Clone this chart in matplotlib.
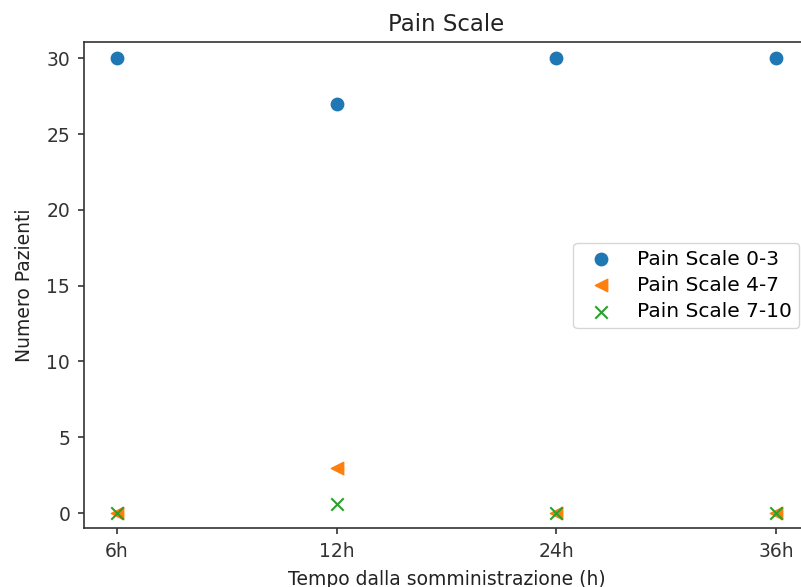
import matplotlib
matplotlib.use("Agg")
import matplotlib.pyplot as plt

# values
tempi = ["6h", "12h", "24h", "36h"]
pain_0_3 = [30, 27, 30, 30]
pain_4_7 = [0, 3, 0, 0]
pain_7_10 = [0, 0.6, 0, 0]

fig = plt.figure(figsize=(8.01, 5.87), dpi=100)
# right edge of the axes falls just outside the picture, as in the reference
ax = fig.add_axes([0.1049, 0.100, 0.905, 0.828])

ax.scatter(tempi, pain_0_3, s=80, marker="o", label="Pain Scale 0-3")
ax.scatter(tempi, pain_4_7, s=80, marker="<", label="Pain Scale 4-7")
ax.scatter(tempi, pain_7_10, s=80, marker="x", label="Pain Scale 7-10")

ax.set_xlim(-0.15, 3.15)
ax.set_ylim(-1.0, 31.05)

for sp in ax.spines.values():
    sp.set_linewidth(1.2)
    sp.set_color("#333333")
ax.tick_params(labelsize=13.5, length=4.5, width=1.2, pad=5.5, colors="#333333")

ax.set_title("Pain Scale", fontsize=16.5, pad=8, color="#222222")
ax.set_xlabel("Tempo dalla somministrazione (h)", fontsize=13.5, labelpad=6, color="#222222")
ax.set_ylabel("Numero Pazienti", fontsize=13.5, labelpad=9, color="#222222")

ax.legend(loc="center right", fontsize=14.5, labelspacing=0.35, borderpad=0.35)

fig.savefig("out.png", dpi=100)
